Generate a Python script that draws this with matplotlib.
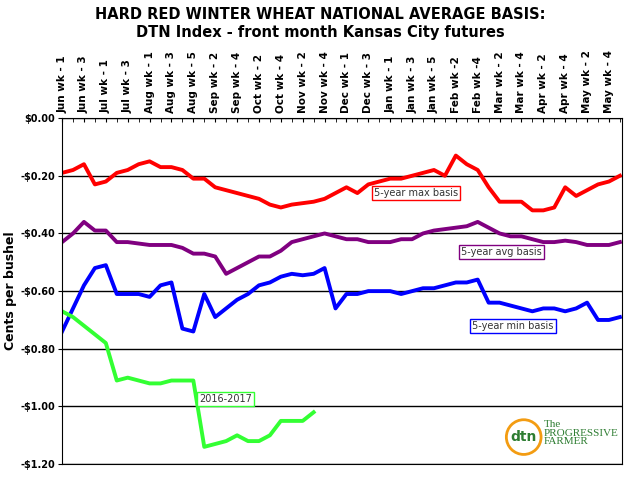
import numpy as np
import matplotlib
matplotlib.use("Agg")
import matplotlib.pyplot as plt

week_labels = ["Jun wk - 1", "Jun wk - 3", "Jul wk - 1", "Jul wk - 3", "Aug wk - 1", "Aug wk - 3",
               "Aug wk - 5", "Sep wk - 2", "Sep wk - 4", "Oct wk - 2", "Oct wk - 4", "Nov wk - 2",
               "Nov wk - 4", "Dec wk - 1", "Dec wk - 3", "Jan wk - 1", "Jan wk - 3", "Jan wk - 5",
               "Feb wk -2", "Feb wk -4", "Mar wk - 2", "Mar wk - 4", "Apr wk - 2", "Apr wk - 4",
               "May wk - 2", "May wk - 4"]

max_basis = [-0.19, -0.18, -0.16, -0.23, -0.22, -0.19, -0.18, -0.16, -0.15, -0.17, -0.17, -0.18,
             -0.21, -0.21, -0.24, -0.25, -0.26, -0.27, -0.28, -0.30, -0.31, -0.30, -0.295, -0.29,
             -0.28, -0.26, -0.24, -0.26, -0.23, -0.22, -0.21, -0.21, -0.20, -0.19, -0.18, -0.20,
             -0.13, -0.16, -0.18, -0.24, -0.29, -0.29, -0.29, -0.32, -0.32, -0.31, -0.24, -0.27,
             -0.25, -0.23, -0.22, -0.20]
avg_basis = [-0.43, -0.40, -0.36, -0.39, -0.39, -0.43, -0.43, -0.435, -0.44, -0.44, -0.44, -0.45,
             -0.47, -0.47, -0.48, -0.54, -0.52, -0.50, -0.48, -0.48, -0.46, -0.43, -0.42, -0.41,
             -0.40, -0.41, -0.42, -0.42, -0.43, -0.43, -0.43, -0.42, -0.42, -0.40, -0.39, -0.385,
             -0.38, -0.375, -0.36, -0.38, -0.40, -0.41, -0.41, -0.42, -0.43, -0.43, -0.425, -0.43,
             -0.44, -0.44, -0.44, -0.43]
min_basis = [-0.74, -0.66, -0.58, -0.52, -0.51, -0.61, -0.61, -0.61, -0.62, -0.58, -0.57, -0.73,
             -0.74, -0.61, -0.69, -0.66, -0.63, -0.61, -0.58, -0.57, -0.55, -0.54, -0.545, -0.54,
             -0.52, -0.66, -0.61, -0.61, -0.60, -0.60, -0.60, -0.61, -0.60, -0.59, -0.59, -0.58,
             -0.57, -0.57, -0.56, -0.64, -0.64, -0.65, -0.66, -0.67, -0.66, -0.66, -0.67, -0.66,
             -0.64, -0.70, -0.70, -0.69]
season_2016 = [-0.67, -0.69, -0.72, -0.75, -0.78, -0.91, -0.90, -0.91, -0.92, -0.92, -0.91, -0.91,
               -0.91, -1.14, -1.13, -1.12, -1.10, -1.12, -1.12, -1.10, -1.05, -1.05, -1.05, -1.02]

fig = plt.figure(figsize=(6.4, 4.8), dpi=100)
ax = fig.add_axes([0.097, 0.033, 0.875, 0.721])

x = np.arange(len(max_basis))
ax.plot(x, max_basis, color="#ff0000", lw=2.8)
ax.plot(x, avg_basis, color="#800080", lw=2.8)
ax.plot(x, min_basis, color="#0000ff", lw=2.8)
ax.plot(np.arange(len(season_2016)), season_2016, color="#33ff33", lw=2.8)

ax.set_xlim(0, 51.2)
ax.set_ylim(-1.2, 0.0)
yt = np.arange(-1.2, 0.01, 0.2)
ax.set_yticks(yt)
ax.set_yticklabels(["-$%.2f" % abs(v) if v < -0.001 else "$0.00" for v in yt],
                   fontsize=7, fontweight="bold")
ax.tick_params(axis="y", length=3, pad=2)
ax.yaxis.grid(True, color="black", lw=1)
ax.set_axisbelow(True)

ax.xaxis.tick_top()
ax.set_xticks(np.arange(0, 52, 2))
ax.set_xticks(np.arange(0, 52, 1), minor=True)
ax.set_xticklabels(week_labels, rotation=90, fontsize=7.5, fontweight="bold")
ax.tick_params(axis="x", which="both", direction="in", top=True, bottom=False, length=3)
ax.set_ylabel("Cents per bushel", fontsize=9, fontweight="bold", labelpad=2)

fig.text(0.5, 0.985, "HARD RED WINTER WHEAT NATIONAL AVERAGE BASIS:\nDTN Index - front month Kansas City futures",
         ha="center", va="top", fontsize=10.5, fontweight="bold")

ax.text(28.5, -0.27, "5-year max basis", fontsize=7, color="#333333",
        bbox=dict(facecolor="white", edgecolor="red", pad=1.5))
ax.text(36.5, -0.475, "5-year avg basis", fontsize=7, color="#333333",
        bbox=dict(facecolor="white", edgecolor="#800080", pad=1.5))
ax.text(37.5, -0.73, "5-year min basis", fontsize=7, color="#333333",
        bbox=dict(facecolor="white", edgecolor="blue", pad=1.5))
ax.text(12.5, -0.985, "2016-2017", fontsize=7, color="#333333",
        bbox=dict(facecolor="white", edgecolor="#33ff33", pad=1.5))

ax.text(41, -1.12, "dtn", fontsize=10, fontweight="bold", color="#2e7d32",
        bbox=dict(boxstyle="circle", facecolor="white", edgecolor="#f39c12", lw=2))
ax.text(44, -1.13, "The\nPROGRESSIVE\nFARMER", fontsize=8, color="#2e7d32",
        fontfamily="Liberation Serif", linespacing=0.9)

fig.savefig("out.png", dpi=100)
